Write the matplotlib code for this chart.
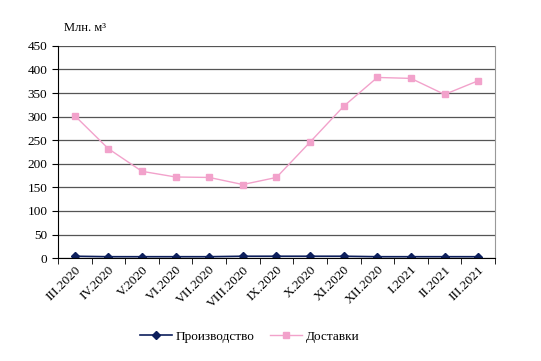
import matplotlib.pyplot as plt

plt.rcParams['font.family'] = ['Liberation Serif', 'DejaVu Serif']

# месяцы
months = ["III.2020", "IV.2020", "V.2020", "VI.2020", "VII.2020", "VIII.2020",
          "IX.2020", "X.2020", "XI.2020", "XII.2020", "I.2021", "II.2021", "III.2021"]
proizvodstvo = [4, 3, 3, 3, 3, 4, 4, 4, 4, 3, 3, 3, 3]
dostavki = [302, 232, 184, 172, 171, 156, 171, 246, 322, 383, 381, 347, 376]

fig = plt.figure(figsize=(5.41, 3.61), dpi=100)
ax = fig.add_axes([0.107, 0.285, 0.808, 0.588])

x = list(range(len(months)))
ax.plot(x, proizvodstvo, color="#0d1f5c", marker="D", markersize=4.5, lw=1.2, label="Производство")
ax.plot(x, dostavki, color="#f2a2cb", marker="s", markersize=4.5, lw=1.0, label="Доставки")

ax.set_xlim(-0.5, len(months) - 0.5)
ax.set_ylim(0, 450)
ax.set_yticks(range(0, 451, 50))
ax.yaxis.grid(True, color="#555555", lw=0.9)
ax.set_axisbelow(True)

ax.set_xticks(x)
ax.set_xticklabels(months, rotation=45, ha="right", rotation_mode="anchor", fontsize=9.5)
ax.tick_params(axis="x", length=0, pad=4)
# засечки между категориями
ax.set_xticks([i - 0.5 for i in range(len(months) + 1)], minor=True)
ax.tick_params(axis="x", which="minor", length=4, direction="out", color="black")
ax.tick_params(axis="y", labelsize=9.5, length=4, direction="out")

ax.spines["top"].set_visible(False)
ax.spines["right"].set_color("#999999")
ax.spines["left"].set_color("black")
ax.spines["bottom"].set_color("black")

fig.text(0.118, 0.915, "Млн. м³", fontsize=9, ha="left")

fig.legend(loc="center", bbox_to_anchor=(0.462, 0.067), ncol=2, frameon=False,
           fontsize=9.5, handlelength=2.4, handletextpad=0.3, columnspacing=1.2)

fig.savefig("out.png", dpi=100)
